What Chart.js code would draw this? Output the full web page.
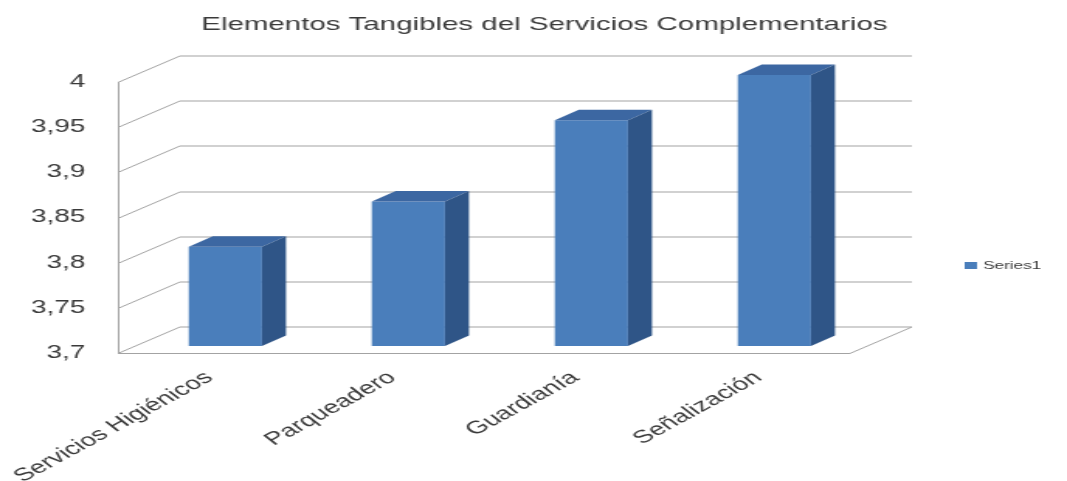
<!DOCTYPE html>
<html>
<head>
<meta charset="utf-8">
<script src="https://cdn.jsdelivr.net/npm/chart.js@4.4.1/dist/chart.umd.min.js"></script>
<style>
  html, body { margin: 0; padding: 0; background: #fff; overflow: hidden; }
  #wrap { width: 1067px; height: 481px; overflow: hidden; }
  #c { display: block; transform-origin: 0 0; }
</style>
</head>
<body>
<div id="wrap"><canvas id="c" width="688" height="481"></canvas></div>
<script>
// Data
const categories   = ['Servicios Higiénicos', 'Parqueadero', 'Guardianía', 'Señalización'];
const seriesName   = 'Series1';
const seriesValues = [3.81, 3.86, 3.95, 4.0];
const yTickLabels  = ['3,7', '3,75', '3,8', '3,85', '3,9', '3,95', '4'];
const yMin = 3.7, yMax = 4.0, yStep = 0.05;
const chartTitle   = 'Elementos Tangibles del Servicios Complementarios';

// The chart is drawn on a narrower canvas and widened horizontally.
const PAGE_W = 1067, CANVAS_W = 688;
const STRETCH = PAGE_W / CANVAS_W;
document.getElementById('c').style.transform = 'scaleX(' + STRETCH + ')';

// Pseudo-3D geometry (canvas px)
const WALL = { dx: 40, dy: -26.5 };      // depth of the back wall
const BAR_SHIFT = { dx: 10.3, dy: -7 };  // bar front plane behind the axis plane
const BAR_DEPTH = { dx: 15.5, dy: -10.5 };
const GRID_COLOR = '#a3a3a3';
const BAR_FRONT = '#4a7ebb';
const BAR_TOP = '#3c67a2';
const BAR_SIDE = '#2f5587';
const TEXT_COLOR = '#3a3a3a';
const FONT = '"Liberation Sans", Arial, sans-serif';

function line(ctx, x1, y1, x2, y2) {
  ctx.beginPath();
  ctx.moveTo(x1, y1);
  ctx.lineTo(x2, y2);
  ctx.stroke();
}

const walls3d = {
  id: 'walls3d',
  beforeDatasetsDraw(chart) {
    const { ctx, chartArea: a, scales: { y } } = chart;
    ctx.save();
    ctx.strokeStyle = GRID_COLOR;
    ctx.lineWidth = 1;
    // side wall + back wall grid lines
    y.ticks.forEach(t => {
      const py = Math.round(y.getPixelForValue(t.value)) + 0.5;
      line(ctx, a.left, py, a.left + WALL.dx, py + WALL.dy);
      line(ctx, a.left + WALL.dx, py + WALL.dy, a.right + WALL.dx, py + WALL.dy);
    });
    // front vertical edge of the side wall
    const top = y.getPixelForValue(y.max), bottom = y.getPixelForValue(y.min);
    line(ctx, a.left + 0.5, top, a.left + 0.5, bottom);
    // floor front and right edges
    line(ctx, a.left, bottom + 0.5, a.right, bottom + 0.5);
    line(ctx, a.right, bottom + 0.5, a.right + WALL.dx, bottom + 0.5 + WALL.dy);
    ctx.restore();
    // bars sit a little behind the front plane
    ctx.save();
    ctx.translate(BAR_SHIFT.dx, BAR_SHIFT.dy);
  },
  afterDatasetsDraw(chart) {
    const { ctx } = chart;
    ctx.restore();
    const meta = chart.getDatasetMeta(0);
    ctx.save();
    meta.data.forEach(bar => {
      const p = bar.getProps(['x', 'y', 'base', 'width'], true);
      const l = p.x - p.width / 2 + BAR_SHIFT.dx;
      const r = p.x + p.width / 2 + BAR_SHIFT.dx;
      const t = p.y + BAR_SHIFT.dy;
      const b = p.base + BAR_SHIFT.dy;
      // top face
      ctx.fillStyle = BAR_TOP;
      ctx.beginPath();
      ctx.moveTo(l, t);
      ctx.lineTo(r, t);
      ctx.lineTo(r + BAR_DEPTH.dx, t + BAR_DEPTH.dy);
      ctx.lineTo(l + BAR_DEPTH.dx, t + BAR_DEPTH.dy);
      ctx.closePath();
      ctx.fill();
      // right side face
      ctx.fillStyle = BAR_SIDE;
      ctx.beginPath();
      ctx.moveTo(r, t);
      ctx.lineTo(r + BAR_DEPTH.dx, t + BAR_DEPTH.dy);
      ctx.lineTo(r + BAR_DEPTH.dx, b + BAR_DEPTH.dy);
      ctx.lineTo(r, b);
      ctx.closePath();
      ctx.fill();
    });
    ctx.restore();
  }
};

// Legend to the right of the plot
const sideLegend = {
  id: 'sideLegend',
  afterDraw(chart) {
    const { ctx } = chart;
    const ds = chart.data.datasets[0];
    ctx.save();
    ctx.fillStyle = ds.backgroundColor;
    ctx.fillRect(622, 262, 8, 7);
    ctx.fillStyle = TEXT_COLOR;
    ctx.font = '11px ' + FONT;
    ctx.textBaseline = 'middle';
    ctx.textAlign = 'left';
    ctx.fillText(ds.label, 634, 266);
    ctx.restore();
  }
};

new Chart(document.getElementById('c'), {
  type: 'bar',
  data: {
    labels: categories,
    datasets: [{
      label: seriesName,
      data: seriesValues,
      base: yMin,
      backgroundColor: BAR_FRONT,
      borderWidth: 0,
      barPercentage: 0.5,
      categoryPercentage: 0.8
    }]
  },
  options: {
    responsive: false,
    devicePixelRatio: 1,
    animation: false,
    layout: { padding: { left: 14, right: 0, top: 0, bottom: 0 } },
    plugins: {
      legend: { display: false },
      tooltip: { enabled: false },
      title: {
        display: true,
        text: chartTitle,
        color: TEXT_COLOR,
        font: { family: FONT, size: 19, weight: 'normal', lineHeight: 1.2 },
        padding: { top: 13, bottom: 46.2 }
      }
    },
    scales: {
      x: {
        grid: { display: false },
        border: { display: false },
        ticks: {
          color: TEXT_COLOR,
          font: { family: FONT, size: 18 },
          minRotation: 40,
          maxRotation: 40,
          autoSkip: false,
          padding: 6
        },
        afterFit(s) { s.height = 128; s.paddingLeft = 0; s.paddingRight = 0; }
      },
      y: {
        min: yMin,
        max: yMax,
        grid: { display: false },
        border: { display: false },
        ticks: {
          stepSize: yStep,
          color: TEXT_COLOR,
          font: { family: FONT, size: 18 },
          padding: 13,
          callback: (v, i) => yTickLabels[i]
        },
        afterFit(s) { s.width = 62; }
      },
      spacer: {
        type: 'linear',
        position: 'right',
        grid: { display: false },
        border: { display: false },
        ticks: { display: false },
        afterFit(s) { s.width = 140; }
      }
    }
  },
  plugins: [walls3d, sideLegend]
});
</script>
</body>
</html>
